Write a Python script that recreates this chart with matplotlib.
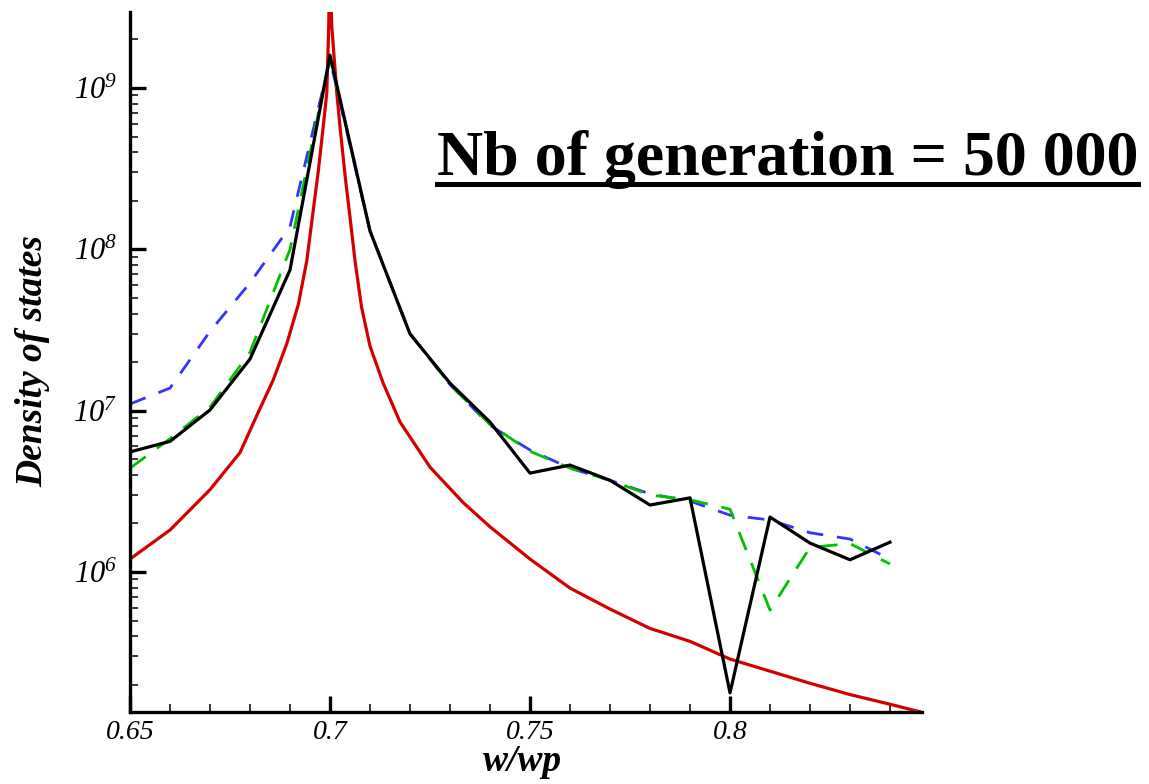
#Density of states vs w/wp, log scale, 4 curves
import numpy as np
import matplotlib
matplotlib.use('Agg')
import matplotlib.pyplot as plt
from matplotlib.ticker import LogLocator, NullFormatter, MultipleLocator
from matplotlib.lines import Line2D

#Step0. data
#sampled frequencies of the three simulated curves
w_sim = [0.65, 0.66, 0.67, 0.68, 0.69, 0.70, 0.71, 0.72, 0.73, 0.74,
         0.75, 0.76, 0.77, 0.78, 0.79, 0.80, 0.81, 0.82, 0.83, 0.84]
#black solid curve
dos_black = [5.55e6, 6.45e6, 1.01e7, 2.09e7, 7.45e7, 1.6e9, 1.3e8, 2.99e7, 1.48e7, 8.5e6,
             4.1e6, 4.6e6, 3.7e6, 2.6e6, 2.88e6, 1.78e5, 2.19e6, 1.51e6, 1.19e6, 1.53e6]
#blue dashed curve
dos_blue = [1.1e7, 1.38e7, 3.1e7, 6.2e7, 1.38e8, 1.5e9, 1.3e8, 3.0e7, 1.45e7, 8.1e6,
            5.7e6, 4.4e6, 3.7e6, 3.05e6, 2.75e6, 2.25e6, 2.1e6, 1.75e6, 1.6e6, 1.2e6]
#green dashed curve
dos_green = [4.4e6, 6.7e6, 1.05e7, 2.3e7, 1.0e8, 1.55e9, 1.3e8, 3.0e7, 1.45e7, 8.2e6,
             5.6e6, 4.4e6, 3.7e6, 3.0e6, 2.8e6, 2.45e6, 5.8e5, 1.42e6, 1.5e6, 1.12e6]
#red smooth curve (log10 values)
w_red = [0.65, 0.66, 0.67, 0.6775, 0.6817, 0.6858, 0.6892, 0.6921, 0.6942, 0.6958,
         0.6971, 0.6983, 0.6992, 0.6997, 0.70, 0.7004, 0.7017, 0.7025, 0.7038, 0.705,
         0.7063, 0.7079, 0.71, 0.7133, 0.7175, 0.725, 0.7333, 0.74, 0.75, 0.76, 0.77,
         0.78, 0.79, 0.80, 0.81, 0.82, 0.83, 0.84, 0.848]
logdos_red = [6.08, 6.26, 6.51, 6.74, 6.97, 7.19, 7.415, 7.66, 7.93, 8.24,
              8.49, 8.76, 8.97, 9.4, 10.0, 9.4, 8.97, 8.76, 8.45, 8.2,
              7.92, 7.64, 7.4, 7.17, 6.93, 6.65, 6.43, 6.28, 6.08, 5.9, 5.77,
              5.65, 5.57, 5.46, 5.385, 5.31, 5.24, 5.18, 5.13]

#tick labels
xtick_vals = [0.65, 0.7, 0.75, 0.8]
xtick_labels = ['0.65', '0.7', '0.75', '0.8']
ytick_vals = [1e6, 1e7, 1e8, 1e9]
ytick_labels = [r'$10^{6}$', r'$10^{7}$', r'$10^{8}$', r'$10^{9}$']

title_text = 'Nb of generation = 50 000'

#Step1. fonts (Times like)
plt.rcParams['font.family'] = ['Liberation Serif', 'DejaVu Serif']
plt.rcParams['mathtext.fontset'] = 'custom'
plt.rcParams['mathtext.rm'] = 'Liberation Serif:italic'
plt.rcParams['mathtext.it'] = 'Liberation Serif:italic'

W, H = 1149, 784
fig = plt.figure(figsize=(W / 100, H / 100), dpi=100)
ax = fig.add_axes([130 / W, 1 - 712 / H, (922 - 130) / W, (712 - 12) / H])

#Step2. curves
ax.plot(w_red, 10 ** np.array(logdos_red), color='#d40000', lw=2.3, zorder=2)
ax.plot(w_sim, dos_blue, color='#3333ff', lw=2.0, dashes=(6, 5), zorder=3)
ax.plot(w_sim, dos_green, color='#00c000', lw=2.0, dashes=(7, 5), zorder=4)
ax.plot(w_sim, dos_black, color='black', lw=2.3, zorder=5)

#Step3. axes
ax.set_yscale('log')
ax.set_xlim(0.65, 0.848)
ax.set_ylim(1.355e5, 2.96e9)
for s in ['top', 'right']:
    ax.spines[s].set_visible(False)
for s in ['left', 'bottom']:
    ax.spines[s].set_linewidth(2.4)
    ax.spines[s].set_zorder(6)

ax.set_xticks(xtick_vals, xtick_labels, fontsize=20, fontstyle='italic')
ax.xaxis.set_minor_locator(MultipleLocator(0.01))
ax.set_yticks(ytick_vals, ytick_labels, fontsize=22)
ax.yaxis.set_minor_locator(LogLocator(base=10, subs=np.arange(2, 10)))
ax.yaxis.set_minor_formatter(NullFormatter())
ax.tick_params(which='major', direction='in', length=11.5, width=2.4, pad=6)
ax.tick_params(which='minor', direction='in', length=6, width=1.1)
ax.tick_params(axis='y', which='major', pad=9)

#axis labels placed in figure coords
fig.text(33 / W, 1 - 361 / H, 'Density of states', rotation=90, ha='center', va='center',
         fontsize=27, fontweight='bold', fontstyle='italic')
fig.text(523 / W, 1 - 771 / H, 'w/wp', ha='center', va='baseline',
         fontsize=27, fontweight='bold', fontstyle='italic')

#Step4. underlined title
t = fig.text(437 / W, 1 - 175 / H, title_text, ha='left', va='baseline',
             fontsize=46, fontweight='bold')
fig.canvas.draw()
bb = t.get_window_extent(fig.canvas.get_renderer())
fig.add_artist(Line2D([bb.x0 / W, bb.x1 / W], [1 - 184 / H, 1 - 184 / H],
                      color='black', lw=3.6, transform=fig.transFigure))

plt.savefig('out.png', dpi=100)
